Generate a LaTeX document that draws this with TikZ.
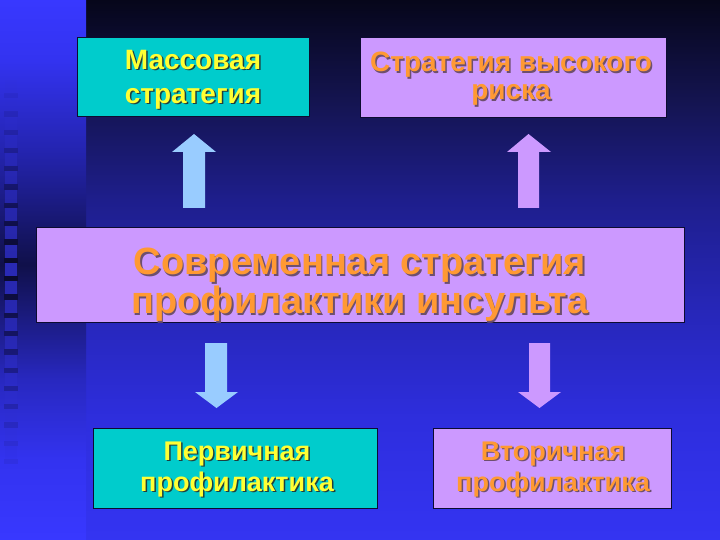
\documentclass[tikz,border=0pt]{standalone}
\usepackage{fontspec}
\setmainfont{Liberation Sans}
\definecolor{bgA}{HTML}{3434F2}
\definecolor{bgB}{HTML}{2E2EDE}
\definecolor{bgC}{HTML}{2626B6}
\definecolor{bgD}{HTML}{1E1E8C}
\definecolor{bgE}{HTML}{141450}
\definecolor{bgF}{HTML}{06061A}
\definecolor{stA}{HTML}{3838FF}
\definecolor{stB}{HTML}{3333F0}
\definecolor{stC}{HTML}{2424B0}
\definecolor{stD}{HTML}{10104A}
\definecolor{stE}{HTML}{2828C0}
\definecolor{cyanbox}{HTML}{00CCCC}
\definecolor{lavbox}{HTML}{CC99FF}
\definecolor{lightarrow}{HTML}{99CCFF}
\definecolor{yellowtxt}{HTML}{FFFF33}
\definecolor{orangetxt}{HTML}{FF9933}
\definecolor{yshadow}{HTML}{1E4040}
\definecolor{oshadow}{HTML}{6E4F6E}
\definecolor{boxedge}{HTML}{0C0C30}
\definecolor{sqcol}{HTML}{3030D0}
\pgfdeclareverticalshading{mainbg}{100bp}{color(0bp)=(bgA); color(25bp)=(bgA); color(36bp)=(bgB); color(47bp)=(bgC); color(56.5bp)=(bgD); color(65.7bp)=(bgE); color(75bp)=(bgF); color(100bp)=(bgF)}
\pgfdeclareverticalshading{stripbg}{100bp}{color(0bp)=(stA); color(25bp)=(stA); color(32.4bp)=(stB); color(39.8bp)=(stE); color(50.5bp)=(stD); color(61.1bp)=(stC); color(69.4bp)=(stB); color(75bp)=(stA); color(100bp)=(stA)}
% one line of text with its drop shadow: #1 shadow colour, #2 text
\newcommand\shln[2]{\rlap{\kern1.5pt\raisebox{-1.5pt}{\color{#1}#2}}#2}
\tikzset{
  slidebox/.style={draw=boxedge, line width=1pt, anchor=north west, inner sep=0pt},
  ytext/.style={text=yellowtxt, align=center, inner sep=0pt},
  otext/.style={text=orangetxt, align=center, inner sep=0pt},
}
\begin{document}
\begin{tikzpicture}[x=1pt,y=-1pt]
\useasboundingbox (0,0) rectangle (720,540);
% background
\shade[shading=mainbg] (86,0) rectangle (720,540);
\shade[shading=stripbg] (0,0) rectangle (86,540);
% squares column
\foreach \i in {0,...,20}{
  \pgfmathsetmacro\yy{80+18.3*\i}
  \pgfmathsetmacro\op{max(0.12,1-abs(\yy-262)/200)}
  \fill[black, opacity=0.45*\op] (4,\yy+13) rectangle (18,\yy+18.3);
  \fill[sqcol, opacity=0.8*\op] (5,\yy) rectangle (17,\yy+13);
}
% boxes
\node[slidebox, fill=cyanbox, minimum width=232pt, minimum height=79pt] (b1) at (77,37.5) {};
\node[slidebox, fill=lavbox, minimum width=306pt, minimum height=80pt] (b2) at (360,37) {};
\node[slidebox, fill=lavbox, minimum width=648pt, minimum height=94pt] (b3) at (36,227.5) {};
\node[slidebox, fill=cyanbox, minimum width=284pt, minimum height=80pt] (b4) at (93,428) {};
\node[slidebox, fill=lavbox, minimum width=238pt, minimum height=80pt] (b5) at (433,428) {};
% arrows
\fill[lightarrow] (183,208) -- (183,152) -- (172,152) -- (194,134) -- (216,152) -- (205,152) -- (205,208) -- cycle;
\fill[lavbox] (518,208) -- (518,152) -- (507,152) -- (528.5,134) -- (551,152) -- (539,152) -- (539,208) -- cycle;
\fill[lightarrow] (205,343) -- (227,343) -- (227,392) -- (238,392) -- (216.5,408) -- (195,392) -- (205,392) -- cycle;
\fill[lavbox] (529,343) -- (550,343) -- (550,392) -- (561,392) -- (539.5,408) -- (518,392) -- (529,392) -- cycle;
% texts
\node[ytext, font=\bfseries\fontsize{28}{34}\selectfont] (t1) at (193,80.5) {\shln{yshadow}{Массовая}\\\shln{yshadow}{стратегия}};
\node[otext, font=\bfseries\fontsize{28}{28}\selectfont] (t2) at (511,79.5) {\shln{oshadow}{Стратегия высокого}\\\shln{oshadow}{риска}};
\node[otext, font=\bfseries\fontsize{38}{39}\selectfont] (t3) at (360,285.5) {\shln{oshadow}{Современная стратегия}\\\shln{oshadow}{профилактики инсульта}};
\node[ytext, font=\bfseries\fontsize{27}{31}\selectfont] (t4) at (237,470) {\shln{yshadow}{Первичная}\\\shln{yshadow}{профилактика}};
\node[otext, font=\bfseries\fontsize{27}{31}\selectfont] (t5) at (553,470) {\shln{oshadow}{Вторичная}\\\shln{oshadow}{профилактика}};
\end{tikzpicture}
\end{document}
